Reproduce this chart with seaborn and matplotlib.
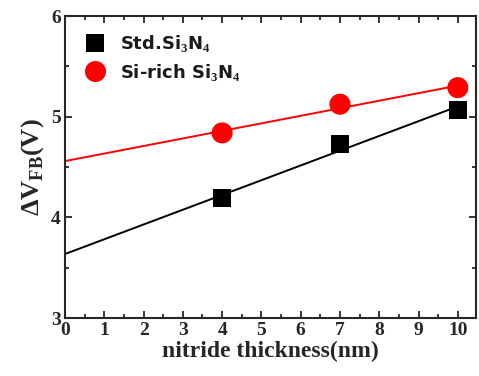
import numpy as np
import pandas as pd
import seaborn as sns
from matplotlib import pyplot as plt
from matplotlib.ticker import MultipleLocator

sns.set_style("ticks")
plt.rcParams['font.family'] = ['Liberation Serif', 'DejaVu Serif']
plt.rcParams['mathtext.fontset'] = 'custom'
plt.rcParams['mathtext.rm'] = 'Liberation Serif:bold'
plt.rcParams['mathtext.bf'] = 'Liberation Serif:bold'

# 数据
thickness = [4, 7, 10]
std_vfb = [4.19, 4.73, 5.07]
rich_vfb = [4.84, 5.125, 5.29]
series_names = ["Std.Si$_3$N$_4$", "Si-rich Si$_3$N$_4$"]

df = pd.DataFrame({
    "thickness": thickness * 2,
    "vfb": std_vfb + rich_vfb,
    "sample": [series_names[0]] * 3 + [series_names[1]] * 3,
})

# 线性拟合
x_fit = np.array([0, 10])
fit_rows = []
for name, vals in zip(series_names, [std_vfb, rich_vfb]):
    k, b = np.polyfit(thickness, vals, 1)
    for xv in x_fit:
        fit_rows.append({"thickness": xv, "vfb": k * xv + b, "sample": name})
fit_df = pd.DataFrame(fit_rows)

colors = {series_names[0]: "black", series_names[1]: "red"}

fig = plt.figure(figsize=(4.79, 3.76), dpi=100)
ax = fig.add_axes([0.1357, 0.154, 0.857, 0.803])

sns.lineplot(data=fit_df, x="thickness", y="vfb", hue="sample", palette=colors,
             linewidth=1.4, legend=False, ax=ax)
sns.scatterplot(data=df, x="thickness", y="vfb", hue="sample", style="sample",
                size="sample", sizes={series_names[0]: 170, series_names[1]: 230},
                markers={series_names[0]: "s", series_names[1]: "o"},
                palette=colors, linewidth=0, ax=ax, zorder=3)

ax.set_xlim(0, 10.45)
ax.set_ylim(3, 6)
ax.xaxis.set_major_locator(MultipleLocator(1))
ax.xaxis.set_minor_locator(MultipleLocator(0.5))
ax.yaxis.set_major_locator(MultipleLocator(1))
ax.yaxis.set_minor_locator(MultipleLocator(0.5))
ax.tick_params(which="both", direction="in", top=True, right=True, width=1.3)
ax.tick_params(which="major", length=5, labelsize=14, pad=3)
ax.tick_params(which="minor", length=3)
for lab in ax.get_xticklabels() + ax.get_yticklabels():
    lab.set_fontweight("bold")
for sp in ax.spines.values():
    sp.set_linewidth(1.5)

ax.set_xlabel("nitride thickness(nm)", fontsize=17, fontweight="bold", labelpad=1)
ax.set_ylabel(r"$\Delta$V$_{\mathrm{FB}}$(V)", fontsize=19, fontweight="bold", labelpad=4)

leg = ax.legend(loc="upper left", frameon=False, markerscale=1.0,
                handlelength=1.4, handletextpad=0.7, labelspacing=0.4,
                borderaxespad=0.45, borderpad=0.5,
                prop={"family": ["DejaVu Sans"], "weight": "bold", "size": 13})
for t in leg.get_texts():
    t.set_color("#1a1a1a")

fig.savefig("out.png", dpi=100)
